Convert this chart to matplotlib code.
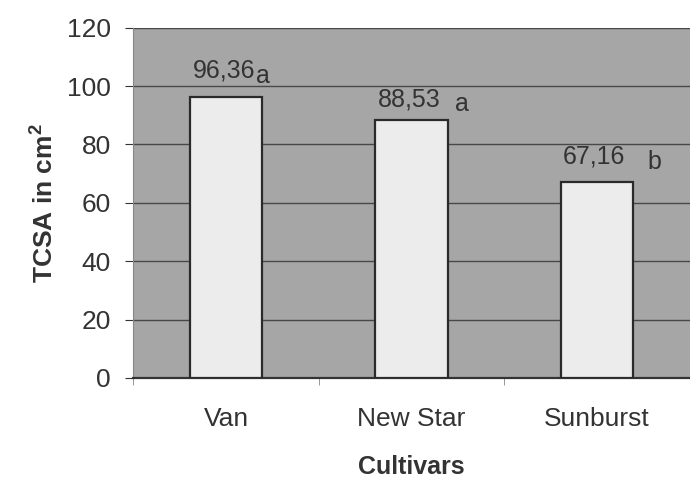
import numpy as np
import matplotlib.pyplot as plt

cultivars = ['Van', 'New Star', 'Sunburst']
tcsa = [96.36, 88.53, 67.16]
value_labels = ['96,36', '88,53', '67,16']
letters = ['a', 'a', 'b']
yticks = [0, 20, 40, 60, 80, 100, 120]

plt.rcParams['font.family'] = ['Liberation Sans', 'DejaVu Sans']

fig = plt.figure(figsize=(6.9, 4.79), dpi=100)
ax = fig.add_axes([0.193, 0.211, 0.807, 0.731])

x = np.arange(len(cultivars))
ax.set_facecolor('#a6a6a6')
ax.bar(x, tcsa, width=0.39, color='#ececec', edgecolor='#2a2a2a', linewidth=1.6, zorder=3)

# gridlines
for t in yticks[1:]:
    ax.axhline(t, color='#484848', linewidth=1.0, zorder=1)

# value labels and significance letters (offsets in data units)
num_dx = [-0.01, -0.01, -0.02]
num_dy = [9.0, 6.8, 8.8]
let_dx = [0.2, 0.27, 0.31]
let_dy = [7.0, 5.3, 7.0]
for i in range(len(cultivars)):
    ax.text(x[i] + num_dx[i], tcsa[i] + num_dy[i], value_labels[i], ha='center', va='center',
            fontsize=18, color='#333333', zorder=4)
    ax.text(x[i] + let_dx[i], tcsa[i] + let_dy[i], letters[i], ha='center',
            va='center', fontsize=18, color='#333333', zorder=4)

ax.set_xlim(-0.5, 2.5)
ax.set_ylim(0, 120)
ax.set_yticks(yticks)
ax.set_xticks(x)
ax.set_xticklabels(cultivars)
ax.set_xticks([-0.5, 0.5, 1.5, 2.5], minor=True)
ax.tick_params(axis='x', which='major', length=0, labelsize=19, pad=21, colors='#333333')
ax.tick_params(axis='x', which='minor', length=5, direction='out', color='#888888')
ax.tick_params(axis='y', length=6, labelsize=19, colors='#333333', pad=10)
for s in ['top', 'right']:
    ax.spines[s].set_visible(False)
ax.spines['left'].set_color('#888888')
ax.spines['bottom'].set_color('#333333')
ax.spines['bottom'].set_linewidth(1.6)

ax.set_xlabel('Cultivars', fontsize=18, fontweight='bold', color='#333333')
ax.xaxis.set_label_coords(0.5, -0.22)
ax.set_ylabel('TCSA in cm$^\\mathregular{2}$', fontsize=19, fontweight='bold', color='#333333', labelpad=7)

fig.savefig('out.png', dpi=100)
